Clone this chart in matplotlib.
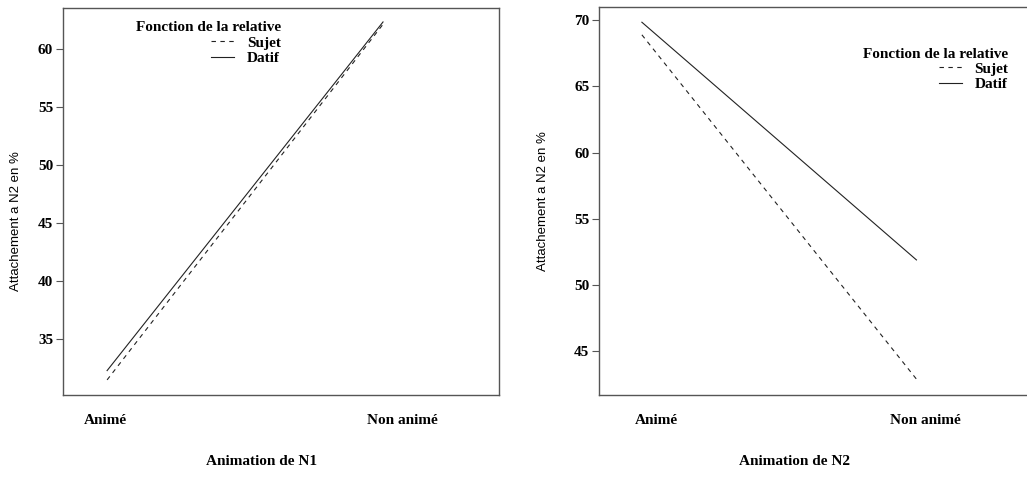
import matplotlib
matplotlib.use("Agg")
import matplotlib.pyplot as plt
from matplotlib.transforms import ScaledTranslation, blended_transform_factory

# data
categories = ["Animé", "Non animé"]
sujet_n1 = [31.5, 62.1]
datif_n1 = [32.3, 62.3]
sujet_n2 = [68.9, 42.9]
datif_n2 = [69.85, 51.9]

serif = {"family": "Liberation Serif", "weight": "bold", "size": 11}
sans = {"family": "Liberation Sans", "size": 9.5}
ink = "#222222"

fig = plt.figure(figsize=(10.27, 4.83), dpi=100)
ax1 = fig.add_axes([0.0613, 0.1822, 0.4245, 0.8012])
ax2 = fig.add_axes([0.5833, 0.1822, 0.4200, 0.8033])


def style(ax, xlim, ylim, yticks, xlabel, xlab_pos, ylab_pos, label_shift):
    x = list(range(len(categories)))
    ax.set_xlim(*xlim)
    ax.set_ylim(*ylim)
    ax.set_xticks([])
    # SPSS puts the category labels a bit off the data points
    base = blended_transform_factory(ax.transData, ax.transAxes)
    for xi, cat, dx in zip(x, categories, label_shift):
        tr = base + ScaledTranslation(dx / 100, 0, fig.dpi_scale_trans)
        ax.text(xi, -0.067, cat, transform=tr, ha="center", va="center", fontdict=serif)
    ax.set_yticks(yticks)
    ax.set_yticklabels([str(t) for t in yticks], fontdict=serif)
    ax.tick_params(axis="y", length=5, width=0.8, pad=2, color="#555555")
    for s in ax.spines.values():
        s.set_color("#555555")
        s.set_linewidth(1.0)
    ax.set_xlabel(xlabel, fontdict=serif)
    ax.xaxis.set_label_coords(*xlab_pos)
    ax.set_ylabel("Attachement a N2 en %", fontdict=sans)
    ax.yaxis.set_label_coords(*ylab_pos)


# left panel: N1
x = range(len(categories))
ax1.plot(x, sujet_n1, color=ink, lw=0.8, linestyle=(0, (4, 4)), label="Sujet")
ax1.plot(x, datif_n1, color=ink, lw=0.8, label="Datif")
style(ax1, (-0.16, 1.42), (30.2, 63.5), [35, 40, 45, 50, 55, 60],
      "Animation de N1", (0.456, -0.155), (-0.094, 0.45), [-2, 19])
ax1.legend(loc="upper left", bbox_to_anchor=(0.15, 0.985), frameon=False,
           title="Fonction de la relative", title_fontproperties=serif,
           prop=serif, alignment="right", borderpad=0, handlelength=1.5,
           handletextpad=0.85, labelspacing=0.1)

# right panel: N2
ax2.plot(x, sujet_n2, color=ink, lw=0.8, linestyle=(0, (4, 4)), label="Sujet")
ax2.plot(x, datif_n2, color=ink, lw=0.8, label="Datif")
style(ax2, (-0.156, 1.415), (41.7, 71.0), [45, 50, 55, 60, 65, 70],
      "Animation de N2", (0.453, -0.155), (-0.117, 0.5), [15, 9])
ax2.spines["right"].set_visible(False)
ax2.legend(loc="upper right", bbox_to_anchor=(0.967, 0.915), frameon=False,
           title="Fonction de la relative", title_fontproperties=serif,
           prop=serif, alignment="right", borderpad=0, handlelength=1.5,
           handletextpad=0.85, labelspacing=0.1)

fig.savefig("out.png", dpi=100, facecolor="white")
